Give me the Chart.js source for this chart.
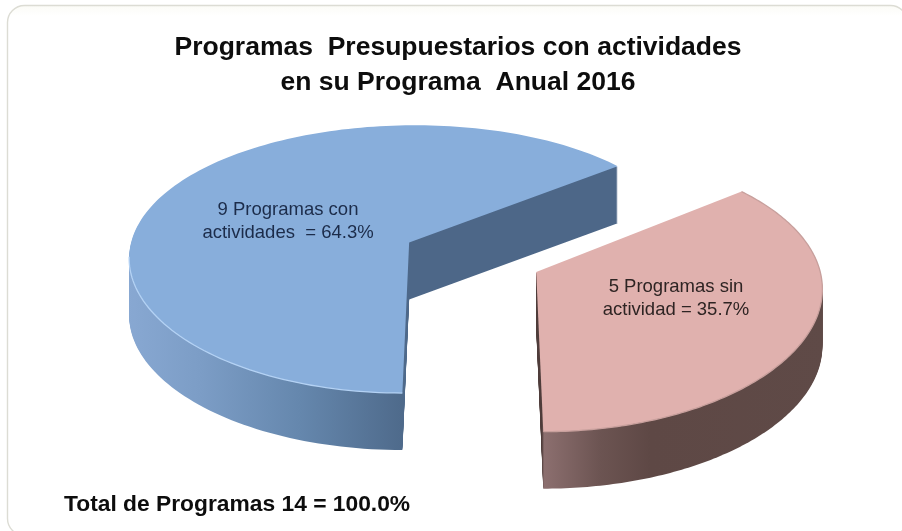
<!DOCTYPE html>
<html><head><meta charset="utf-8">
<style>html,body{margin:0;padding:0;background:#fff}#w{width:902px;height:531px;position:relative}</style>
<script src="https://cdn.jsdelivr.net/npm/chart.js@4"></script></head>
<body><div id="w"><canvas id="c" width="902" height="531"></canvas></div>
<script>
const categories = ["9 Programas con actividades", "5 Programas sin actividad"];
const values = [9, 5];
const sliceLabels = [["9 Programas con", "actividades  = 64.3%"], ["5 Programas sin", "actividad = 35.7%"]];
const titleLines = ["Programas  Presupuestarios con actividades", "en su Programa  Anual 2016"];
const totalLabel = "Total de Programas 14 = 100.0%";
const topColors = ["#88aedb", "#e0b1ae"];
const inkColors = ["#1c2c4a", "#2e2423"];
const rimColors = ["#b4d2f4", "#c8a09d"];
const sideStops = [
  [[128,"#88a8d2"],[200,"#7c9dc6"],[300,"#6587ad"],[400,"#4f6b8c"],[410,"#4d6788"],[620,"#4d6788"]],
  [[534,"#4e3c3a"],[542,"#4e3c3a"],[544,"#8c6f6f"],[600,"#6c5452"],[650,"#5e4845"],[830,"#5f4a47"]]
];
const labelAnchors = [[288,221],[676,298]];
const rimFromY = [255, 190];
const PROJ = {cx:472, cy:257, radius:281, squash:0.482, persp:0.00045, perspX:0.00035, depth:57};

function project(u, v) {
  const s = 1 / (1 - PROJ.persp * v), sx = 1 / (1 - PROJ.perspX * v);
  return [PROJ.cx + u * sx, PROJ.cy + PROJ.squash * v * s];
}
function rim(el) {
  const p = el.getProps(['startAngle','endAngle','outerRadius']);
  const off = el.options.offset || 0, mid = (p.startAngle + p.endAngle) / 2;
  const ox = Math.cos(mid) * off, oy = Math.sin(mid) * off, pts = [], n = 160;
  for (let i = 0; i <= n; i++) {
    const a = p.startAngle + (p.endAngle - p.startAngle) * i / n;
    pts.push(project(ox + Math.cos(a) * PROJ.radius, oy + Math.sin(a) * PROJ.radius));
  }
  return {apex: project(ox, oy), pts};
}
function trace(ctx, g, d) {
  ctx.beginPath();
  ctx.moveTo(g.apex[0], g.apex[1] + d);
  g.pts.forEach(p => ctx.lineTo(p[0], p[1] + d));
  ctx.closePath();
}
const pie3d = {
  id: 'pie3d',
  beforeDraw(chart) {
    const c = chart.ctx;
    c.save();
    c.fillStyle = '#fff'; c.fillRect(0, 0, 902, 531);
    c.beginPath(); c.roundRect(7.5, 5.5, 900, 530, 17);
    const g = c.createLinearGradient(0, 5, 0, 16);
    g.addColorStop(0, '#fbfbf6'); g.addColorStop(1, '#ffffff');
    c.fillStyle = g; c.fill();
    c.strokeStyle = '#dcdcd4'; c.lineWidth = 1.4; c.stroke();
    c.restore();
  },
  beforeDatasetDraw(chart, args) {
    const c = chart.ctx, meta = args.meta;
    meta.data.forEach((el, i) => {
      const g = rim(el);
      const grad = c.createLinearGradient(100, 0, 850, 0);
      sideStops[i].forEach(s => grad.addColorStop((s[0] - 100) / 750, s[1]));
      c.save();
      c.fillStyle = grad;
      for (let d = PROJ.depth; d >= 1; d--) { trace(c, g, d); c.fill(); }
      trace(c, g, 0); c.fillStyle = topColors[i]; c.fill();
      c.beginPath();
      let open = false;
      g.pts.forEach(p => {
        if (p[1] < rimFromY[i]) { open = false; return; }
        if (open) c.lineTo(p[0], p[1]); else c.moveTo(p[0], p[1]);
        open = true;
      });
      c.strokeStyle = rimColors[i]; c.lineWidth = 1.3; c.stroke();
      c.restore();
    });
    return false;
  },
  afterDatasetsDraw(chart) {
    const c = chart.ctx;
    c.save();
    c.textAlign = 'center'; c.textBaseline = 'middle';
    c.font = '18.5px "Liberation Sans", Arial, sans-serif';
    sliceLabels.forEach((lines, i) => {
      c.fillStyle = inkColors[i];
      c.fillText(lines[0], labelAnchors[i][0], labelAnchors[i][1] - 11.5);
      c.fillText(lines[1], labelAnchors[i][0], labelAnchors[i][1] + 11.5);
    });
    c.textAlign = 'left'; c.fillStyle = '#0d0d0d';
    c.font = 'bold 22.8px "Liberation Sans", Arial, sans-serif';
    c.fillText(totalLabel, 64, 505);
    c.restore();
  }
};
new Chart(document.getElementById('c'), {
  type: 'pie',
  data: { labels: categories, datasets: [{ data: values, backgroundColor: topColors, borderWidth: 0, offset: 70.5, hoverOffset: 0 }] },
  options: {
    responsive: false, animation: false, rotation: 180,
    layout: { padding: { left: 14 } },
    plugins: {
      legend: { display: false }, tooltip: { enabled: false },
      title: { display: true, text: titleLines, color: '#0d0d0d', padding: { top: 30, bottom: 10 },
        font: { family: '"Liberation Sans", Arial, sans-serif', size: 26.5, weight: 'bold', lineHeight: 1.32 } }
    }
  },
  plugins: [pie3d]
});
</script></body></html>
